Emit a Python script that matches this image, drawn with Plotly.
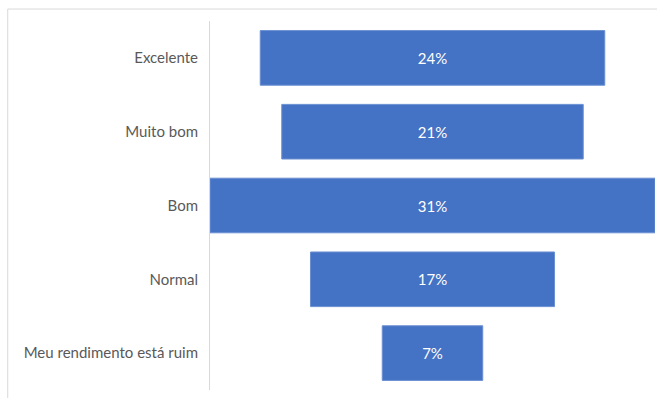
import plotly.graph_objects as go

# Survey answers and their share of respondents (%)
categories = ["Excelente", "Muito bom", "Bom", "Normal", "Meu rendimento está ruim"]
shares = [24, 21, 31, 17, 7]

W, H = 657, 398
# plot area in pixels
PX0, PX1 = 210, 655.5
PY0, PY1 = 20.5, 390.5


def px_x(px):
    return (px - PX0) / (PX1 - PX0)


def px_y(py):
    return (PY1 - py) / (PY1 - PY0)


FONT = "Lato, Open Sans, sans-serif"

fig = go.Figure(
    go.Funnel(
        y=categories,
        x=shares,
        texttemplate="%{x}%",
        textposition="inside",
        insidetextanchor="middle",
        textfont=dict(color="white", size=15, family=FONT),
        marker=dict(color="#4472C4", line=dict(color="#6a8fd3", width=1)),
        connector=dict(visible=False),
        width=0.74,
        hoverinfo="y+x",
    )
)

fig.update_layout(
    width=W,
    height=H,
    margin=dict(l=PX0, r=W - PX1, t=PY0, b=H - PY1),
    paper_bgcolor="white",
    plot_bgcolor="white",
    showlegend=False,
    font=dict(family=FONT, size=15, color="#595959"),
    xaxis=dict(visible=False, range=[-15.5, 15.5], fixedrange=True),
    yaxis=dict(
        showline=True,
        linecolor="#d9d9d9",
        linewidth=1,
        showgrid=False,
        ticks="",
        ticklabelstandoff=8,
        tickfont=dict(size=15, color="#595959"),
    ),
    shapes=[
        # frame around the chart (top and left edges)
        dict(type="line", xref="paper", yref="paper",
             x0=px_x(7.5), x1=px_x(700), y0=px_y(8.5), y1=px_y(8.5),
             line=dict(color="#d9d9d9", width=1)),
        dict(type="line", xref="paper", yref="paper",
             x0=px_x(7.5), x1=px_x(7.5), y0=px_y(8.5), y1=px_y(420),
             line=dict(color="#d9d9d9", width=1)),
    ],
)

fig.write_html("out.html")
